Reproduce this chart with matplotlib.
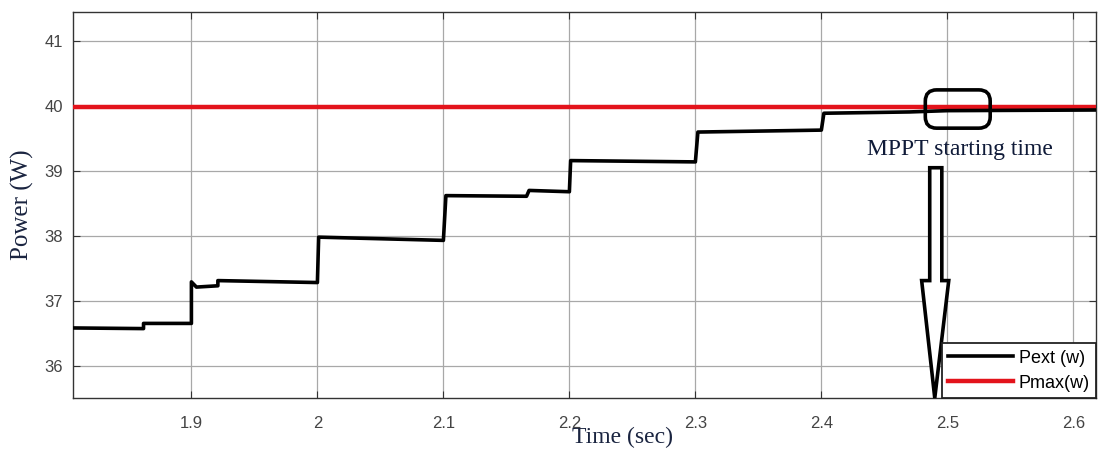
import matplotlib
matplotlib.use("Agg")
import matplotlib.pyplot as plt
from matplotlib.patches import FancyBboxPatch, Polygon

# Extracted power (step-wise MPPT tracking), repeated times mark the jumps
pext_t = [1.806, 1.862, 1.862, 1.900, 1.900, 1.904, 1.921, 1.921, 2.000, 2.001,
          2.100, 2.102, 2.166, 2.168, 2.200, 2.201, 2.300, 2.302, 2.400, 2.402,
          2.470, 2.500, 2.618]
pext_p = [36.58, 36.57, 36.65, 36.65, 37.29, 37.21, 37.23, 37.31, 37.28, 37.98,
          37.93, 38.62, 38.61, 38.70, 38.68, 39.16, 39.14, 39.60, 39.63, 39.89,
          39.91, 39.93, 39.94]

# Maximum available power
pmax_t = [1.806, 2.618]
pmax_p = [39.98, 39.98]

xticks = [1.9, 2.0, 2.1, 2.2, 2.3, 2.4, 2.5, 2.6]
xticklabels = ["1.9", "2", "2.1", "2.2", "2.3", "2.4", "2.5", "2.6"]
yticks = [36, 37, 38, 39, 40, 41]

fig = plt.figure(figsize=(10.99, 4.53), dpi=100)
ax = fig.add_axes([0.0664, 0.1214, 0.9309, 0.852])

ax.plot(pmax_t, pmax_p, color="#e3131b", lw=3.2, label="Pmax(w)", zorder=3)
ax.plot(pext_t, pext_p, color="black", lw=2.6, label="Pext (w)", zorder=4)

ax.set_xlim(1.806, 2.618)
ax.set_ylim(35.5, 41.45)
ax.set_xticks(xticks)
ax.set_xticklabels(xticklabels)
ax.set_yticks(yticks)
ax.grid(True, color="#a8a8a8", lw=0.9)
ax.set_axisbelow(True)
ax.tick_params(direction="in", top=True, right=True, length=5,
               labelsize=12, labelcolor="#444444", color="#333333")
ax.tick_params(axis="x", pad=13)
ax.tick_params(axis="y", pad=7)
for lab in ax.get_xticklabels() + ax.get_yticklabels():
    lab.set_family("Liberation Sans")
for sp in ax.spines.values():
    sp.set_color("#333333")
    sp.set_linewidth(1.0)

ax.set_ylabel("Power (W)", family="Liberation Serif", fontsize=18, color="#1a2440",
              va="center")
ax.yaxis.set_label_coords(-0.049, 0.5)
ax.set_xlabel("Time (sec)", family="Liberation Serif", fontsize=17, color="#1a2440",
              va="center")
ax.xaxis.set_label_coords(0.537, -0.102)

# annotation: rounded box, caption and hollow arrow
box = FancyBboxPatch((2.4825, 39.66), 0.0515, 0.59,
                     boxstyle="round,pad=0,rounding_size=0.009",
                     mutation_aspect=19.3, fill=False, ec="black", lw=2.6, zorder=6)
ax.add_patch(box)
ax.text(2.510, 39.33, "MPPT starting time", family="Liberation Serif",
        fontsize=17, color="#0f1a38", ha="center", va="center", zorder=6)
arrow = Polygon([(2.486, 39.05), (2.4956, 39.05), (2.4956, 37.31), (2.5011, 37.31),
                 (2.490, 35.5), (2.4796, 37.31), (2.486, 37.31)],
                closed=True, fc="white", ec="black", lw=2.6, zorder=6, clip_on=False)
ax.add_patch(arrow)

handles, labels = ax.get_legend_handles_labels()
leg = ax.legend(handles[::-1], labels[::-1], loc="lower right", borderaxespad=0,
                fancybox=False, framealpha=1, edgecolor="#222222",
                prop={"family": "Liberation Sans", "size": 13},
                handlelength=3.6, handletextpad=0.3, labelspacing=0.45,
                borderpad=0.35)
leg.get_frame().set_linewidth(1.3)
leg.set_zorder(7)

fig.savefig("out.png", dpi=100)
